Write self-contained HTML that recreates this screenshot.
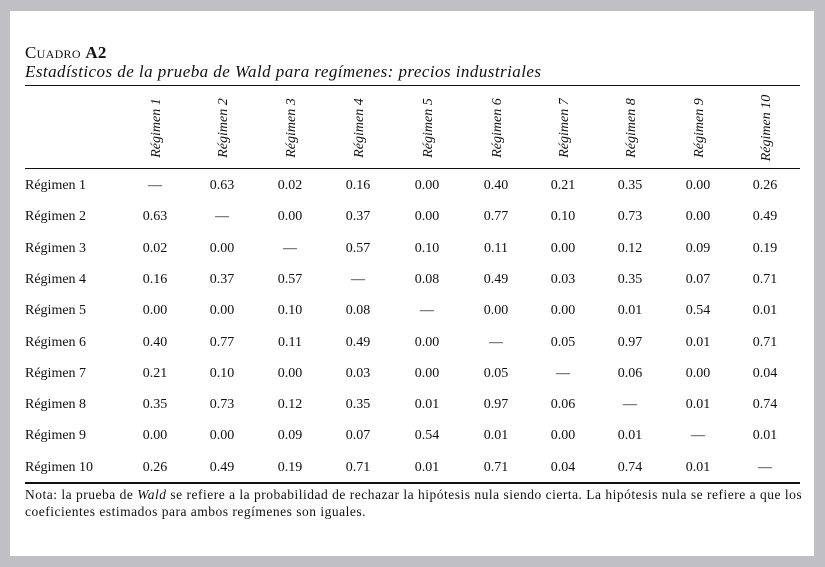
<!DOCTYPE html>
<html><head><meta charset="utf-8"><style>
body{margin:0;width:825px;height:567px;background:#c0c0c4;position:relative;font-family:"Liberation Serif",serif;color:#111;overflow:hidden}
#p{position:absolute;left:10px;top:11px;width:804px;height:545px;background:#fff}
.a{position:absolute;white-space:nowrap}
.r{position:absolute;left:25px;width:775px;background:#111}
.h{position:absolute;font-style:italic;font-size:14px;transform:translate(-50%,-50%) rotate(-90deg);white-space:nowrap}
.c{position:absolute;font-size:14px;transform:translate(-50%,-50%);white-space:nowrap}
.l{position:absolute;left:25px;font-size:14px;transform:translateY(-50%)}
</style></head><body><div id="p"></div>
<div class="a" style="left:25px;top:43px;font-size:17px;font-variant:small-caps;letter-spacing:0.3px">Cuadro <b style="font-variant:normal">A2</b></div>
<div class="a" style="left:25px;top:62px;font-size:17px;font-style:italic;letter-spacing:0.45px">Estadísticos de la prueba de Wald para regímenes: precios industriales</div>
<div class="r" style="top:85px;height:1px"></div>
<div class="r" style="top:168px;height:1px"></div>
<div class="r" style="top:482px;height:2px"></div>
<div class="a" style="left:25px;top:486px;font-size:13.5px;line-height:17px;letter-spacing:0.5px">Nota: la prueba de <i>Wald</i> se refiere a la probabilidad de rechazar la hipótesis nula siendo cierta. La hipótesis nula se refiere a que los<br>coeficientes estimados para ambos regímenes son iguales.</div>
<div id="t"></div>
<script>
var X=[155,222,290,358,427,496,563,630,698,765];
var D=[["—","0.63","0.02","0.16","0.00","0.40","0.21","0.35","0.00","0.26"],
["0.63","—","0.00","0.37","0.00","0.77","0.10","0.73","0.00","0.49"],
["0.02","0.00","—","0.57","0.10","0.11","0.00","0.12","0.09","0.19"],
["0.16","0.37","0.57","—","0.08","0.49","0.03","0.35","0.07","0.71"],
["0.00","0.00","0.10","0.08","—","0.00","0.00","0.01","0.54","0.01"],
["0.40","0.77","0.11","0.49","0.00","—","0.05","0.97","0.01","0.71"],
["0.21","0.10","0.00","0.03","0.00","0.05","—","0.06","0.00","0.04"],
["0.35","0.73","0.12","0.35","0.01","0.97","0.06","—","0.01","0.74"],
["0.00","0.00","0.09","0.07","0.54","0.01","0.00","0.01","—","0.01"],
["0.26","0.49","0.19","0.71","0.01","0.71","0.04","0.74","0.01","—"]];
var h="";
for(var j=0;j<10;j++)h+='<div class="h" style="left:'+(X[j]+2)+'px;top:128px">Régimen '+(j+1)+'</div>';
for(var i=0;i<10;i++){var y=186+i*31.3;h+='<div class="l" style="top:'+y+'px">Régimen '+(i+1)+'</div>';
for(var j=0;j<10;j++)h+='<div class="c" style="left:'+X[j]+'px;top:'+y+'px">'+D[i][j]+'</div>';}
document.getElementById("t").innerHTML=h;
</script></body></html>
